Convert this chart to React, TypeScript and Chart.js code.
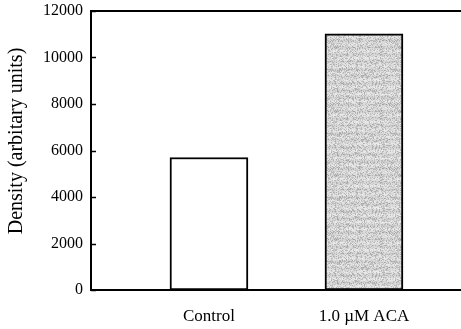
import React, { useEffect, useRef } from "react";
import { Chart, registerables } from "chart.js";

Chart.register(...registerables);

const categories = ["Control", "1.0 \u00B5M ACA"];
const densityValues = [5700, 11020];
const yTicks = [0, 2000, 4000, 6000, 8000, 10000, 12000];
const yTitle = "Density (arbitary units)";

function makePattern(): CanvasPattern | string {
  const c = document.createElement("canvas");
  c.width = 64;
  c.height = 64;
  const ctx = c.getContext("2d");
  if (!ctx) return "#d4d4d4";
  const img = ctx.createImageData(64, 64);
  for (let y = 0; y < 64; y++) {
    for (let x = 0; x < 64; x++) {
      const h = Math.sin(x * 12.9898 + y * 78.233) * 43758.5453;
      const f = h - Math.floor(h);
      const band = Math.sin(y * 0.9) * 8;
      let v = 228 + band - f * f * 60;
      v = Math.max(130, Math.min(250, v));
      const i = (y * 64 + x) * 4;
      img.data[i] = v;
      img.data[i + 1] = v;
      img.data[i + 2] = v;
      img.data[i + 3] = 255;
    }
  }
  ctx.putImageData(img, 0, 0);
  const p = ctx.createPattern(c, "repeat");
  return p || "#d4d4d4";
}

const framePlugin = {
  id: "frame",
  afterDatasetsDraw(chart: any) {
    const { ctx, chartArea, scales } = chart;
    ctx.save();
    ctx.strokeStyle = "#000";
    ctx.lineWidth = 2;
    ctx.beginPath();
    ctx.moveTo(chartArea.left - 1, chartArea.top);
    ctx.lineTo(chartArea.right, chartArea.top);
    ctx.stroke();
    ctx.lineWidth = 1.5;
    const ys = scales.y;
    for (const t of yTicks) {
      const py = Math.round(ys.getPixelForValue(t)) + 0.5;
      ctx.beginPath();
      ctx.moveTo(chartArea.left, py);
      ctx.lineTo(chartArea.left + 5, py);
      ctx.stroke();
    }
    // y-axis title
    ctx.translate(17, 141);
    ctx.rotate(-Math.PI / 2);
    ctx.fillStyle = "#000";
    ctx.font = "20px 'Liberation Serif', serif";
    ctx.textAlign = "center";
    ctx.textBaseline = "middle";
    ctx.fillText(yTitle, 0, 0);
    ctx.restore();
  },
};

export default function App() {
  const ref = useRef<HTMLCanvasElement>(null);
  useEffect(() => {
    if (!ref.current) return;
    const pattern = makePattern();
    const chart = new Chart(ref.current, {
      type: "bar",
      data: {
        datasets: [
          {
            data: densityValues.map((v, i) => ({ x: i, y: v })),
            backgroundColor: ["#ffffff", pattern as any],
            borderColor: "#000",
            borderWidth: 2,
            borderSkipped: false,
            barThickness: 78,
          },
        ],
      },
      options: {
        animation: false,
        responsive: false,
        maintainAspectRatio: false,
        layout: { padding: { top: 11, right: 0, left: 0, bottom: 0 } },
        plugins: { legend: { display: false }, tooltip: { enabled: false } },
        scales: {
          x: {
            type: "linear",
            offset: false,
            min: -0.761,
            max: 1.626,
            grid: { display: false, offset: false, drawTicks: false },
            border: { display: true, color: "#000", width: 2 },
            afterBuildTicks: (s: any) => {
              s.ticks = categories.map((_, i) => ({ value: i }));
            },
            afterFit: (s: any) => {
              s.height = 39;
              s.paddingLeft = 0;
              s.paddingRight = 0;
            },
            ticks: {
              padding: 16,
              color: "#000",
              font: { family: "'Liberation Serif', serif", size: 17 },
              callback: (v: any) => categories[v as number] ?? "",
              maxRotation: 0,
              autoSkip: false,
            },
          },
          y: {
            min: 0,
            max: 12000,
            grid: { display: false, drawTicks: false },
            border: { display: true, color: "#000", width: 2 },
            afterBuildTicks: (s: any) => {
              s.ticks = yTicks.map((v) => ({ value: v }));
            },
            afterFit: (s: any) => {
              s.width = 91;
              s.paddingTop = 0;
              s.paddingBottom = 0;
            },
            ticks: {
              padding: 8,
              color: "#000",
              font: { family: "'Liberation Serif', serif", size: 16 },
              callback: (v: any) => String(v),
            },
          },
        },
      },
      plugins: [framePlugin],
    });
    return () => chart.destroy();
  }, []);
  return (
    <div style={{ position: "absolute", left: 0, top: 0, width: 461, height: 329, background: "#fff" }}>
      <canvas ref={ref} width={461} height={329} />
    </div>
  );
}
